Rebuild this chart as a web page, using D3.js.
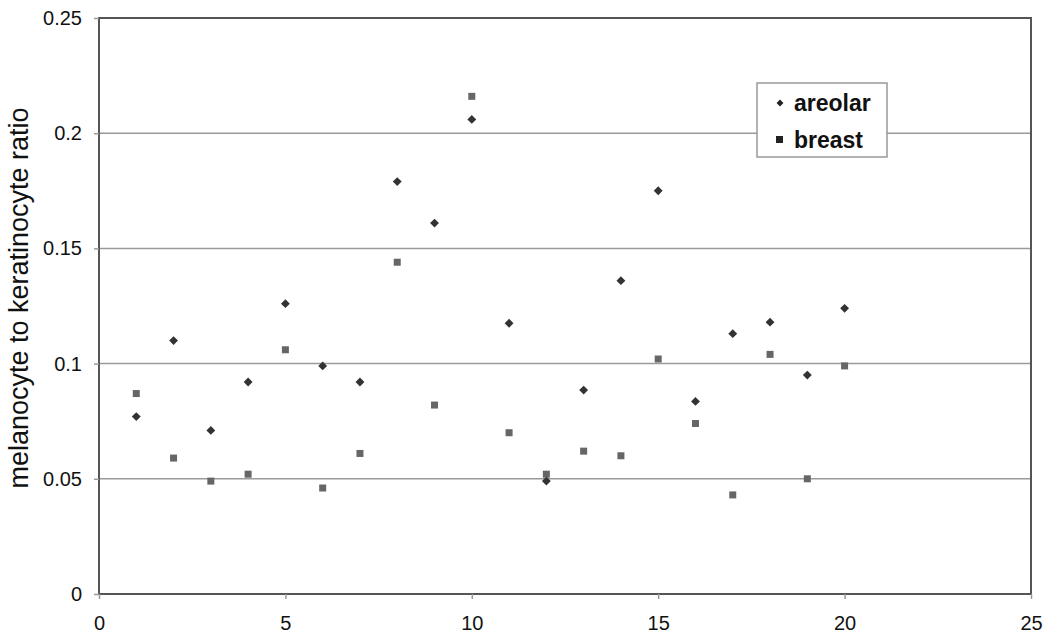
<!DOCTYPE html>
<html>
<head>
<meta charset="utf-8">
<script src="https://cdn.jsdelivr.net/npm/d3@7"></script>
<style>
  body { margin: 0; background: #fff; }
  text { font-family: "Liberation Sans", Arial, sans-serif; }
</style>
</head>
<body>
<div id="chart"></div>
<script>
// data
var samples = d3.range(1, 21);
var areolar = [0.077, 0.110, 0.071, 0.092, 0.126, 0.099, 0.092, 0.179, 0.161, 0.206,
               0.1175, 0.049, 0.0885, 0.136, 0.175, 0.0836, 0.113, 0.118, 0.095, 0.124];
var breast  = [0.087, 0.059, 0.049, 0.052, 0.106, 0.046, 0.061, 0.144, 0.082, 0.216,
               0.070, 0.052, 0.062, 0.060, 0.102, 0.074, 0.043, 0.104, 0.050, 0.099];
var xTicks = [0, 5, 10, 15, 20, 25];
var yTicks = [0, 0.05, 0.1, 0.15, 0.2, 0.25];

var margin = { left: 99, right: 17, top: 18, bottom: 46 };
var W = 1048, H = 640;
var w = W - margin.left - margin.right;
var h = H - margin.top - margin.bottom;

var svg = d3.select("#chart").append("svg")
    .attr("width", W)
    .attr("height", H);

var g = svg.append("g")
    .attr("transform", "translate(" + margin.left + "," + margin.top + ")");

var x = d3.scaleLinear().domain([0, 25]).range([0, w]);
var y = d3.scaleLinear().domain([0, 0.25]).range([h, 0]);

// gridlines
g.selectAll(".grid")
    .data(yTicks.slice(1, -1))
    .enter().append("line")
    .attr("x1", 0).attr("x2", w)
    .attr("y1", function(d) { return y(d); })
    .attr("y2", function(d) { return y(d); })
    .attr("stroke", "#9a9a9a")
    .attr("stroke-width", 1.5);

// plot frame
g.append("rect")
    .attr("width", w).attr("height", h)
    .attr("fill", "none")
    .attr("stroke", "#555")
    .attr("stroke-width", 2);

var xAxis = d3.axisBottom(x).tickValues(xTicks).tickFormat(d3.format("d")).tickSize(5).tickPadding(17);
var yAxis = d3.axisLeft(y).tickValues(yTicks).tickFormat(function(d) { return d === 0 ? "0" : String(+d.toFixed(2)); }).tickSize(5).tickPadding(12);

var xg = g.append("g").attr("transform", "translate(0," + h + ")").call(xAxis);
var yg = g.append("g").call(yAxis);
[xg, yg].forEach(function(a) {
    a.select(".domain").remove();
    a.selectAll("line").attr("stroke", "#999").attr("stroke-width", 1.5);
    a.selectAll("text").attr("font-size", 20).attr("fill", "#111");
});

// y axis title
g.append("text")
    .attr("transform", "rotate(-90)")
    .attr("x", -h / 2 + 8)
    .attr("y", -71)
    .attr("text-anchor", "middle")
    .attr("font-size", 27)
    .attr("fill", "#111")
    .text("melanocyte to keratinocyte ratio");

var diamond = d3.symbol().type(d3.symbolDiamond2).size(50);

// breast squares
g.selectAll(".breast")
    .data(samples)
    .enter().append("rect")
    .attr("class", "breast")
    .attr("x", function(d, i) { return x(d) - 3.5; })
    .attr("y", function(d, i) { return y(breast[i]) - 3.5; })
    .attr("width", 7).attr("height", 7)
    .attr("fill", "#666");

// areolar diamonds
g.selectAll(".areolar")
    .data(samples)
    .enter().append("path")
    .attr("class", "areolar")
    .attr("d", diamond)
    .attr("transform", function(d, i) { return "translate(" + x(d) + "," + y(areolar[i]) + ")"; })
    .attr("fill", "#333");

// legend
var lg = svg.append("g").attr("transform", "translate(757,83)");
lg.append("rect")
    .attr("width", 130).attr("height", 74)
    .attr("fill", "#fff")
    .attr("stroke", "#999")
    .attr("stroke-width", 1.5);
lg.append("path")
    .attr("d", d3.symbol().type(d3.symbolDiamond2).size(30))
    .attr("transform", "translate(23,20)")
    .attr("fill", "#222");
lg.append("rect")
    .attr("x", 19).attr("y", 53)
    .attr("width", 7).attr("height", 7)
    .attr("fill", "#222");
lg.append("text").attr("x", 37).attr("y", 28)
    .attr("font-size", 23).attr("font-weight", "bold").attr("fill", "#111")
    .text("areolar");
lg.append("text").attr("x", 37).attr("y", 65)
    .attr("font-size", 23).attr("font-weight", "bold").attr("fill", "#111")
    .text("breast");
</script>
</body>
</html>
